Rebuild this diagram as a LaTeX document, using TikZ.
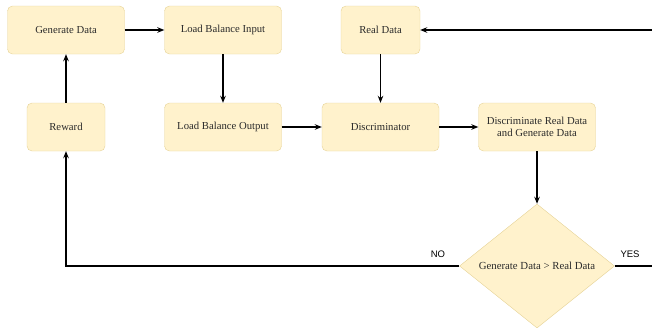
\documentclass[tikz,border=0pt]{standalone}
\usepackage{fontspec}
\setmainfont{Liberation Serif}
\newfontfamily\labelfont{Liberation Sans}
\usetikzlibrary{positioning,arrows.meta,shapes.geometric}
\definecolor{boxfill}{HTML}{FFF2CC}
\definecolor{boxline}{HTML}{E6D396}
\definecolor{boxtext}{HTML}{2B2B2B}
\tikzset{
  flowbox/.style={draw=boxline, rounded corners=5pt, fill=boxfill,
    text=boxtext, font=\fontsize{10.7}{12}\selectfont, align=center,
    minimum width=117pt, minimum height=48pt, inner sep=2pt},
  flowdia/.style={diamond, draw=boxline, fill=boxfill, text=boxtext,
    font=\fontsize{10.8}{12}\selectfont, inner sep=0pt,
    minimum width=155pt, minimum height=120pt},
  flowarr/.style={-{Stealth[length=7pt,width=5.5pt]}, line width=1.4pt},
  flowline/.style={line width=1.4pt},
  flowlabel/.style={font=\labelfont\fontsize{9.5}{11}\selectfont},
}
\begin{document}
\begin{tikzpicture}[x=1pt, y=-1pt]
  \useasboundingbox (0,0) rectangle (652,327);
  % ---- top row ----
  \node[flowbox] at (66,30)   (Gen)  {Generate Data};
  \node[flowbox] at (223,30)  (LBin) {Load Balance Input};
  \node[flowbox, minimum width=79pt] at (380.5,30) (Real) {Real Data};
  % ---- middle row ----
  \node[flowbox, minimum width=78pt] at (66,127) (Rew) {Reward};
  \node[flowbox] at (223,127) (LBout) {Load Balance Output};
  \node[flowbox] at (380.5,127) (Disc) {Discriminator};
  \node[flowbox] at (537,127) (DiscRG) {Discriminate Real Data\\and Generate Data};
  % ---- decision ----
  \node[flowdia] at (537,266) (Dec) {Generate Data > Real Data};
  \coordinate (Rin)  at (652,30);
  \coordinate (Yout) at (652,266);
  \coordinate (Nturn) at (66,266);

  % ---- Edges ----
  \draw[flowarr] (Gen)   -- (LBin);
  \draw[flowarr] (LBin)  -- (LBout);
  \draw[flowarr] (LBout) -- (Disc);
  \draw[flowarr] (Real)  -- (Disc);
  \draw[flowarr] (Disc)  -- (DiscRG);
  \draw[flowarr] (DiscRG) -- (Dec);
  \draw[flowarr] (Rew)   -- (Gen);
  \draw[flowarr] (Rin)   -- (Real);
  % NO / YES branches
  \draw[flowarr] (Dec.west) -- (Nturn) -- (Rew);
  \draw[flowline] (Dec.east) -- (Yout);
  \node[flowlabel] at (438,254) (No)  {NO};
  \node[flowlabel] at (630,254) (Yes) {YES};
\end{tikzpicture}
\end{document}
